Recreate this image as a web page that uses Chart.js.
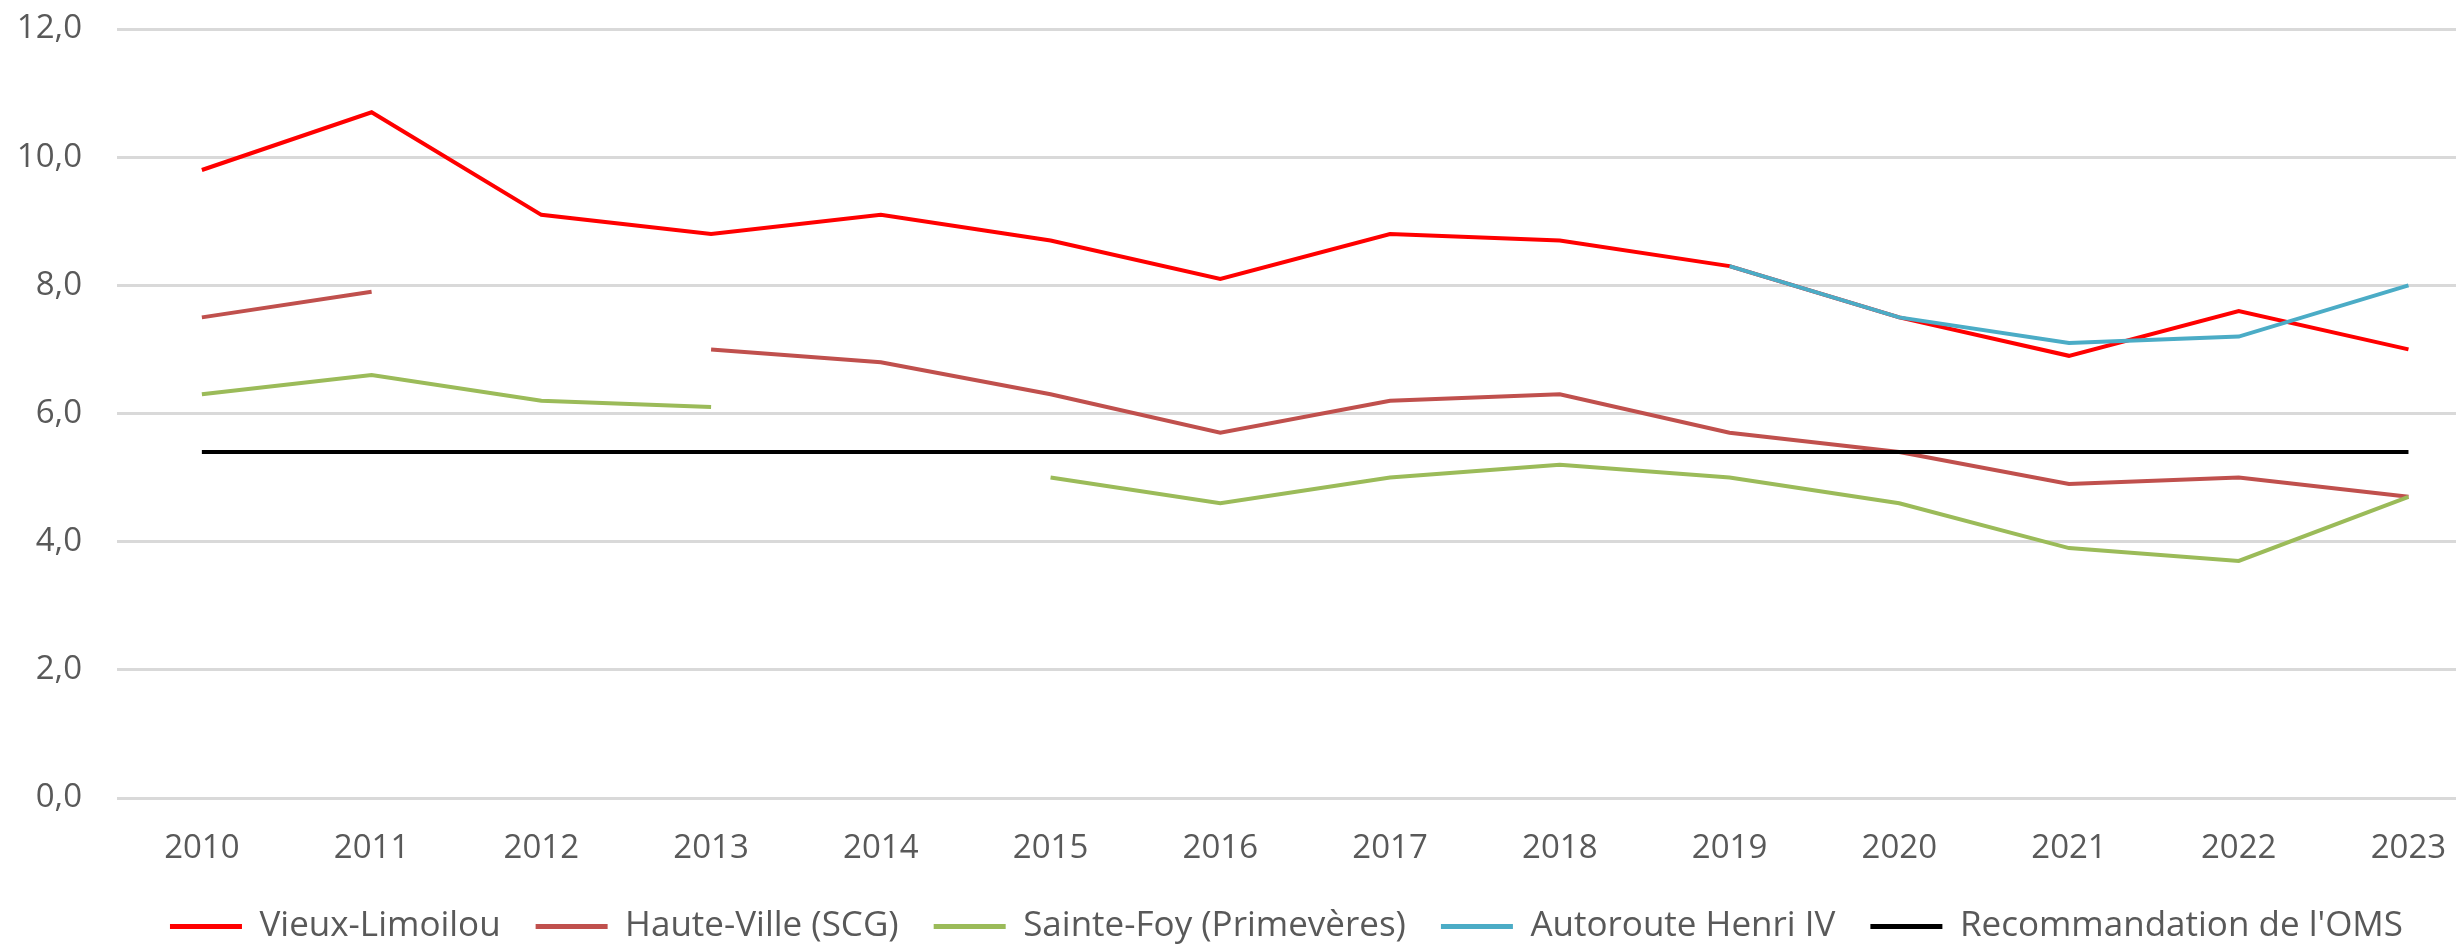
<!DOCTYPE html>
<html lang="fr">
<head>
<meta charset="utf-8">
<title>Concentrations annuelles</title>
<script src="https://cdn.jsdelivr.net/npm/chart.js@4/dist/chart.umd.min.js"></script>
<style>
    html, body { margin: 0; padding: 0; background: #ffffff; overflow: hidden; }
    #wrap { position: relative; width: 2456px; height: 944px; }
</style>
</head>
<body>
<div id="wrap"><canvas id="chart"></canvas></div>
<script>
// data
const years = [2010, 2011, 2012, 2013, 2014, 2015, 2016, 2017, 2018, 2019, 2020, 2021, 2022, 2023];
const vieuxLimoilou = [9.8, 10.7, 9.1, 8.8, 9.1, 8.7, 8.1, 8.8, 8.7, 8.3, 7.5, 6.9, 7.6, 7.0];
const hauteVille = [7.5, 7.9, null, 7.0, 6.8, 6.3, 5.7, 6.2, 6.3, 5.7, 5.4, 4.9, 5.0, 4.7];
const sainteFoy = [6.3, 6.6, 6.2, 6.1, null, 5.0, 4.6, 5.0, 5.2, 5.0, 4.6, 3.9, 3.7, 4.7];
const henriIV = [null, null, null, null, null, null, null, null, null, 8.3, 7.5, 7.1, 7.2, 8.0];
const recommandationOMS = [5.4, 5.4, 5.4, 5.4, 5.4, 5.4, 5.4, 5.4, 5.4, 5.4, 5.4, 5.4, 5.4, 5.4];
const yTicks = [0, 2, 4, 6, 8, 10, 12];

const textColor = '#595959';
const fontFamily = "'Open Sans', sans-serif";

const toPoints = (values) => values.map((v, i) => ({ x: years[i], y: v }));

function makeSeries(label, values, color, order) {
    return {
        label: label,
        data: toPoints(values),
        borderColor: color,
        backgroundColor: color,
        borderWidth: 4,
        pointRadius: 0,
        tension: 0,
        spanGaps: false,
        order: order
    };
}

const ctx = document.getElementById('chart').getContext('2d');
new Chart(ctx, {
    type: 'line',
    data: {
        datasets: [
            makeSeries('Vieux-Limoilou', vieuxLimoilou, '#ff0000', 5),
            makeSeries('Haute-Ville (SCG)', hauteVille, '#c0504d', 4),
            makeSeries('Sainte-Foy (Primevères)', sainteFoy, '#9bbb59', 3),
            makeSeries('Autoroute Henri IV', henriIV, '#4bacc6', 2),
            makeSeries("Recommandation de l'OMS", recommandationOMS, '#000000', 1)
        ]
    },
    options: {
        responsive: true,
        maintainAspectRatio: false,
        animation: false,
        layout: {
            padding: { top: 29, left: 0, right: 0, bottom: -10 }
        },
        scales: {
            x: {
                type: 'linear',
                min: 2009.5,
                max: 2023.28,
                afterBuildTicks: (scale) => {
                    scale.ticks = years.map(v => ({ value: v }));
                },
                afterFit: (scale) => {
                    scale.height = 76;
                    scale.paddingLeft = 0;
                    scale.paddingRight = 0;
                },
                grid: { display: false },
                border: { display: false },
                ticks: {
                    color: textColor,
                    font: { family: fontFamily, size: 33 },
                    padding: 23,
                    maxRotation: 0,
                    autoSkip: false,
                    callback: (value) => String(value)
                }
            },
            y: {
                min: 0,
                max: 12,
                afterBuildTicks: (scale) => {
                    scale.ticks = yTicks.map(v => ({ value: v }));
                },
                afterFit: (scale) => {
                    scale.width = 117;
                    scale.paddingTop = 0;
                    scale.paddingBottom = 0;
                },
                grid: { color: '#d9d9d9', lineWidth: 3, drawTicks: false },
                border: { display: false },
                ticks: {
                    color: textColor,
                    font: { family: fontFamily, size: 33 },
                    padding: 35,
                    callback: (value) => value.toFixed(1).replace('.', ',')
                }
            }
        },
        plugins: {
            legend: {
                position: 'bottom',
                fullSize: false,
                labels: {
                    color: textColor,
                    font: { family: fontFamily, size: 35 },
                    boxWidth: 72,
                    boxHeight: 5,
                    padding: 35,
                    sort: (a, b) => a.datasetIndex - b.datasetIndex,
                    generateLabels: (chart) => Chart.defaults.plugins.legend.labels.generateLabels(chart)
                        .map(item => ({ ...item, lineWidth: 0, fillStyle: item.strokeStyle }))
                }
            },
            tooltip: { enabled: false }
        }
    }
});
</script>
</body>
</html>
